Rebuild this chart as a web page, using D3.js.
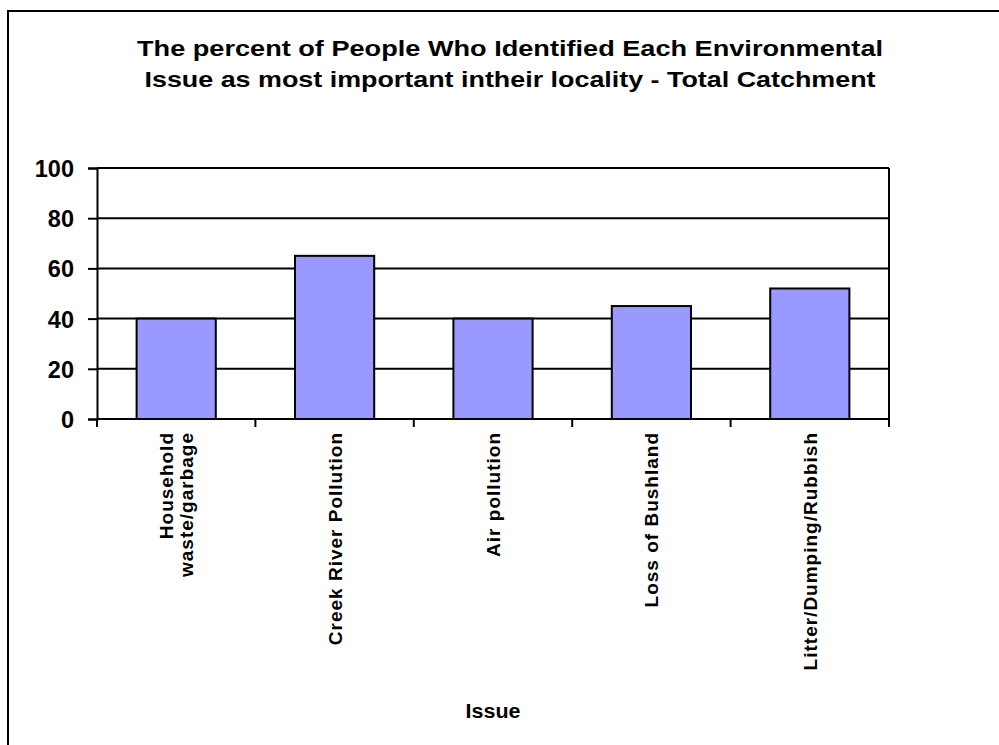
<!DOCTYPE html>
<html>
<head>
<meta charset="utf-8">
<script src="https://cdn.jsdelivr.net/npm/d3@7"></script>
<style>
  html, body { margin: 0; padding: 0; background: #fff; }
  svg { display: block; font-family: "Liberation Sans", Arial, sans-serif; font-weight: bold; }
</style>
</head>
<body>
<svg id="chart" width="999" height="745"></svg>
<script>
// Survey results: share of respondents naming each issue as most important
const categories = [
  ["Household", "waste/garbage"],
  ["Creek River Pollution"],
  ["Air pollution"],
  ["Loss of Bushland"],
  ["Litter/Dumping/Rubbish"]
];
const values = [40, 65, 40, 45, 52];
const yTicks = [0, 20, 40, 60, 80, 100];
const titleLines = [
  "The percent of People Who Identified Each Environmental",
  "Issue as most important intheir locality - Total Catchment"
];
const xTitle = "Issue";

const svg = d3.select("#chart");

// Outer chart frame (runs off the right and bottom edges)
svg.append("rect")
  .attr("x", 8).attr("y", 11)
  .attr("width", 1100).attr("height", 900)
  .attr("fill", "#fff").attr("stroke", "#000").attr("stroke-width", 2);

const plot = { left: 97, right: 889, top: 168, bottom: 419 };

const x = d3.scaleBand()
  .domain(d3.range(categories.length))
  .range([plot.left, plot.right])
  .paddingInner(0.5).paddingOuter(0.25);

const y = d3.scaleLinear().domain([0, 100]).range([plot.bottom, plot.top]);

// Title, two centred lines set to a fixed width
const titleWidths = [746, 731];
svg.append("g").selectAll("text").data(titleLines).join("text")
  .attr("x", 510)
  .attr("y", (d, i) => 56 + i * 31)
  .attr("text-anchor", "middle")
  .attr("textLength", (d, i) => titleWidths[i])
  .attr("lengthAdjust", "spacingAndGlyphs")
  .style("font-size", "22.5px")
  .text(d => d);

// Horizontal gridlines
svg.append("g").selectAll("line").data(yTicks.filter(t => t > 0)).join("line")
  .attr("x1", plot.left).attr("x2", plot.right)
  .attr("y1", d => y(d)).attr("y2", d => y(d))
  .attr("stroke", "#000").attr("stroke-width", 2);

// Plot area right edge
svg.append("line")
  .attr("x1", plot.right).attr("x2", plot.right)
  .attr("y1", plot.top).attr("y2", plot.bottom)
  .attr("stroke", "#000").attr("stroke-width", 2);

// Bars
svg.append("g").selectAll("rect").data(values).join("rect")
  .attr("x", (d, i) => x(i))
  .attr("width", x.bandwidth())
  .attr("y", d => y(d))
  .attr("height", d => y(0) - y(d))
  .attr("fill", "#9999ff")
  .attr("stroke", "#000").attr("stroke-width", 2);

// Y axis
const yAxis = svg.append("g")
  .attr("transform", `translate(${plot.left},0)`)
  .call(d3.axisLeft(y).tickValues(yTicks).tickSize(9).tickPadding(14).tickFormat(d3.format("d")));
yAxis.select(".domain").attr("stroke", "#000").attr("stroke-width", 2);
yAxis.selectAll(".tick line").attr("stroke", "#000").attr("stroke-width", 2);
yAxis.selectAll(".tick text")
  .attr("fill", "#000")
  .attr("dy", "0.36em")
  .style("font-size", "23.5px")
  .style("font-weight", "bold")
  .style("font-family", "'Liberation Sans', Arial, sans-serif");

// X axis: tick marks at category boundaries
const step = x.step();
const boundaries = d3.range(categories.length + 1);
const xAxis = svg.append("g");
xAxis.append("line")
  .attr("x1", plot.left).attr("x2", plot.right)
  .attr("y1", plot.bottom).attr("y2", plot.bottom)
  .attr("stroke", "#000").attr("stroke-width", 2);
xAxis.selectAll("line.tick").data(boundaries).join("line")
  .attr("class", "tick")
  .attr("x1", i => plot.left + i * step).attr("x2", i => plot.left + i * step)
  .attr("y1", plot.bottom).attr("y2", plot.bottom + 8)
  .attr("stroke", "#000").attr("stroke-width", 2);

// Category labels, rotated
const labels = svg.append("g").selectAll("text").data(categories).join("text")
  .attr("transform", (d, i) => `translate(${x(i) + x.bandwidth() / 2},432) rotate(-90)`)
  .attr("text-anchor", "end")
  .style("font-size", "19px")
  .style("letter-spacing", "1px");
labels.selectAll("tspan").data(d => d.map((t, k) => ({ t, k, n: d.length }))).join("tspan")
  .attr("x", 0)
  .attr("y", d => (d.k - (d.n - 1) / 2) * 20 + 7)
  .text(d => d.t);

// X axis title, centred under the plot area
svg.append("text")
  .attr("x", (plot.left + plot.right) / 2).attr("y", 718)
  .attr("text-anchor", "middle")
  .attr("textLength", 55)
  .attr("lengthAdjust", "spacingAndGlyphs")
  .style("font-size", "20px")
  .text(xTitle);
</script>
</body>
</html>
